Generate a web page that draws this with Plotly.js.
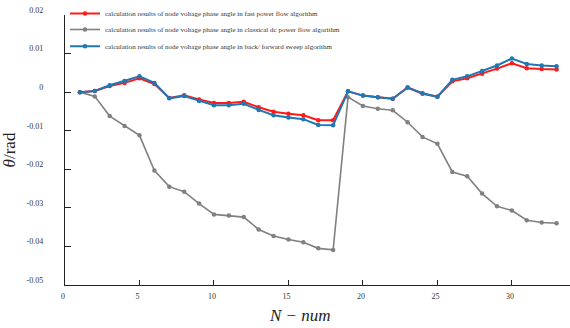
<!DOCTYPE html>
<html>
<head>
<meta charset="utf-8">
<script src="https://cdn.plot.ly/plotly-3.0.1.min.js"></script>
<style>html,body{margin:0;padding:0;background:#fff;}#chart{width:570px;height:328px;}</style>
</head>
<body>
<div id="chart"></div>
<script>
const nodes = [1,2,3,4,5,6,7,8,9,10,11,12,13,14,15,16,17,18,19,20,21,22,23,24,25,26,27,28,29,30,31,32,33];
const fastPF = [0.0000,0.0003,0.0016,0.0024,0.0036,0.0021,-0.0015,-0.0008,-0.0019,-0.0028,-0.0028,-0.0025,-0.0039,-0.0051,-0.0056,-0.0060,-0.0073,-0.0073,0.0002,-0.0009,-0.0013,-0.0017,0.0012,-0.0004,-0.0012,0.0028,0.0036,0.0048,0.0061,0.0075,0.0062,0.0060,0.0059];
const classicalDC = [0.0000,-0.0011,-0.0062,-0.0088,-0.0112,-0.0203,-0.0245,-0.0258,-0.0289,-0.0317,-0.0320,-0.0324,-0.0356,-0.0373,-0.0382,-0.0389,-0.0405,-0.0409,-0.0013,-0.0036,-0.0043,-0.0047,-0.0078,-0.0116,-0.0134,-0.0207,-0.0218,-0.0263,-0.0296,-0.0307,-0.0332,-0.0338,-0.0340];
const backForward = [0.0000,0.0003,0.0018,0.0029,0.0041,0.0024,-0.0016,-0.0010,-0.0023,-0.0034,-0.0034,-0.0030,-0.0046,-0.0060,-0.0066,-0.0070,-0.0085,-0.0086,0.0002,-0.0009,-0.0013,-0.0017,0.0012,-0.0003,-0.0012,0.0032,0.0041,0.0055,0.0069,0.0087,0.0073,0.0069,0.0067];
const seriesNames = [
  'calculation results of node voltage phase angle in fast power flow algorithm',
  'calculation results of node voltage phase angle in classical dc power flow algorithm',
  'calculation results of node voltage phase angle in back/ forward sweep algorithm'
];
const xTickVals = [0,5,10,15,20,25,30];
const xTickText = ['0','5','10','15','20','25','30'];
const yTickVals = [0.02,0.01,0,-0.01,-0.02,-0.03,-0.04,-0.05];
const yTickText = ['0.02','0.01','0','-0.01','-0.02','-0.03','-0.04','-0.05'];

const serif = 'Liberation Serif, Times New Roman, serif';
const traces = [
  {x: nodes, y: fastPF, name: seriesNames[0], mode: 'lines+markers', legend: 'legend',
   line: {color: '#ff1a1a', width: 2}, marker: {color: '#ff1a1a', size: 4.5}},
  {x: nodes, y: classicalDC, name: seriesNames[1], mode: 'lines+markers', legend: 'legend2',
   line: {color: '#808080', width: 1.6}, marker: {color: '#808080', size: 4.5}},
  {x: nodes, y: backForward, name: seriesNames[2], mode: 'lines+markers', legend: 'legend3',
   line: {color: '#1f77b4', width: 2}, marker: {color: '#1f77b4', size: 4.5}}
];
const legendStyle = (yv) => ({x: 0, xanchor: 'left', y: yv, yanchor: 'top',
    bgcolor: 'rgba(0,0,0,0)', borderwidth: 0,
    font: {family: serif, size: 7, color: '#333'}});
const layout = {
  width: 570, height: 328,
  margin: {l: 65, r: 0, t: 15, b: 43, pad: 0, autoexpand: false},
  paper_bgcolor: '#fff', plot_bgcolor: '#fff',
  font: {family: serif, color: '#333', size: 8},
  showlegend: true,
  legend: legendStyle(1.0593),
  legend2: legendStyle(1.0),
  legend3: legendStyle(0.938),
  xaxis: {range: [0, 33.9], tickmode: 'array', tickvals: xTickVals, ticktext: xTickText,
    ticks: 'inside', ticklen: 5, tickwidth: 1, tickcolor: '#222',
    showline: true, linecolor: '#222', linewidth: 1.2, showgrid: false, zeroline: false,
    ticklabelstandoff: 3, ticklabelshift: -2,
    tickfont: {family: serif, size: 8, color: '#333'}},
  yaxis: {range: [-0.05, 0.02], tickmode: 'array', tickvals: yTickVals, ticktext: yTickText,
    ticks: 'inside', ticklen: 6, tickwidth: 1, tickcolor: '#222',
    showline: true, linecolor: '#222', linewidth: 1.2, showgrid: false, zeroline: false,
    ticklabelstandoff: 19, ticklabelshift: -5,
    tickfont: {family: serif, size: 8, color: '#333'},
    title: {text: '<i>θ</i>/rad', standoff: 8, font: {family: serif, size: 17, color: '#222'}}},
  annotations: [
    {text: 'N − num', xref: 'paper', yref: 'paper', x: (300 - 65) / 505, y: -0.0, yshift: -30,
     xanchor: 'center', yanchor: 'middle', showarrow: false,
     font: {family: serif, size: 17, color: '#222', style: 'italic'}}
  ]
};
Plotly.newPlot('chart', traces, layout, {displayModeBar: false, staticPlot: true});
</script>
</body>
</html>
